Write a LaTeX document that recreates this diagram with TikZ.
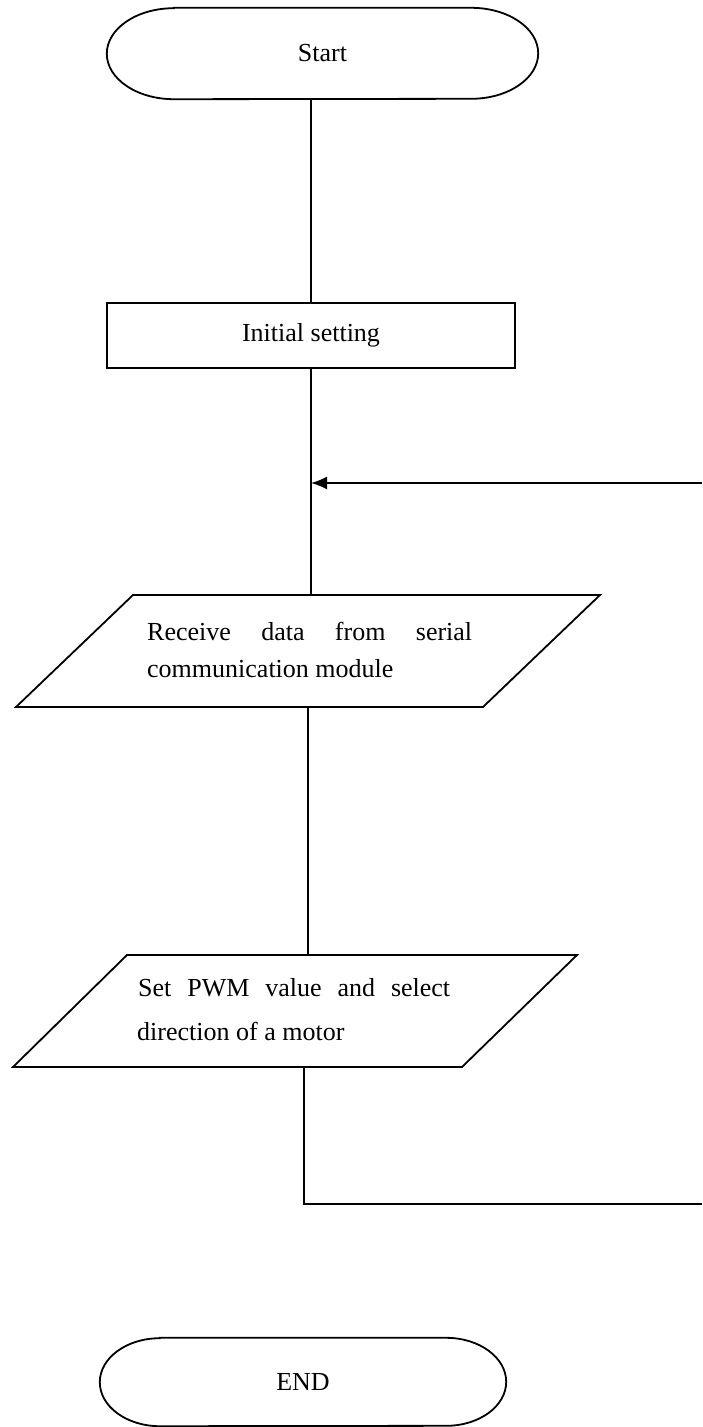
\documentclass[tikz,border=0pt]{standalone}
\usepackage{fontspec}
\setmainfont{Liberation Serif}
\usetikzlibrary{arrows.meta}
\tikzset{
  lbl/.style={font=\fontsize{26}{30}\selectfont, inner sep=0pt},
  shapeline/.style={line width=1.8pt, line join=miter},
  conn/.style={line width=1.6pt},
  termbox/.style={lbl, minimum width=#1, minimum height=88pt},
}
\begin{document}
\begin{tikzpicture}[x=1pt,y=-1pt]
\useasboundingbox (0,0) rectangle (702,1427);
\fill[white] (0,0) rectangle (702,1427);

% Start terminal
\node[termbox=431pt, minimum height=91pt] (start) at (322.5,53.5) {Start};
\draw[shapeline] ([xshift=67pt]start.north west) -- ([xshift=-67pt]start.north east)
  arc[start angle=90, end angle=-90, x radius=67pt, y radius=45.5pt]
  -- ([xshift=67pt]start.south west)
  arc[start angle=270, end angle=90, x radius=67pt, y radius=45.5pt] -- cycle;

% Initial setting
\node[lbl, draw, shapeline, minimum width=408pt, minimum height=65pt] (init) at (311,335.5) {Initial setting};

% Parallelogram 1
\coordinate (p1tl) at (133,595);
\coordinate (p1tr) at (600,595);
\coordinate (p1br) at (483,707);
\coordinate (p1bl) at (16,707);
\draw[shapeline] (p1tl) -- (p1tr) -- (p1br) -- (p1bl) -- cycle;
\node[lbl, anchor=base west] (p1a) at (147,640) {\makebox[325pt][s]{Receive data from serial}};
\node[lbl, anchor=base west] (p1b) at (147,677) {communication module};
\coordinate (p1in) at (311,595);
\coordinate (p1out) at (308,707);

% Parallelogram 2
\coordinate (p2tl) at (127,955);
\coordinate (p2tr) at (577,955);
\coordinate (p2br) at (462,1067);
\coordinate (p2bl) at (13,1067);
\draw[shapeline] (p2tl) -- (p2tr) -- (p2br) -- (p2bl) -- cycle;
\node[lbl, anchor=base west] (p2a) at (138,996) {\makebox[312pt][s]{Set PWM value and select}};
\node[lbl, anchor=base west] (p2b) at (137,1040) {direction of a motor};
\coordinate (p2in) at (308,955);
\coordinate (p2out) at (304,1067);

% END terminal
\node[termbox=406pt, minimum height=88pt] (end) at (303,1382) {END};
\draw[shapeline] ([xshift=60pt]end.north west) -- ([xshift=-60pt]end.north east)
  arc[start angle=90, end angle=-90, x radius=60pt, y radius=44pt]
  -- ([xshift=60pt]end.south west)
  arc[start angle=270, end angle=90, x radius=60pt, y radius=44pt] -- cycle;

% connectors
\coordinate (j) at (311,483);
\coordinate (loopin) at (702,483);
\coordinate (loopout) at (702,1204);
\draw[conn] (start.south -| init.north) -- (init.north);
\draw[conn] (init.south) -- (p1in);
\draw[conn, -{Latex[length=16pt, width=13pt]}] (loopin) -- (j);
\draw[conn] (p1out) -- (p2in);
\draw[conn] (p2out) -- (p2out |- loopout) -- (loopout);
\end{tikzpicture}
\end{document}
